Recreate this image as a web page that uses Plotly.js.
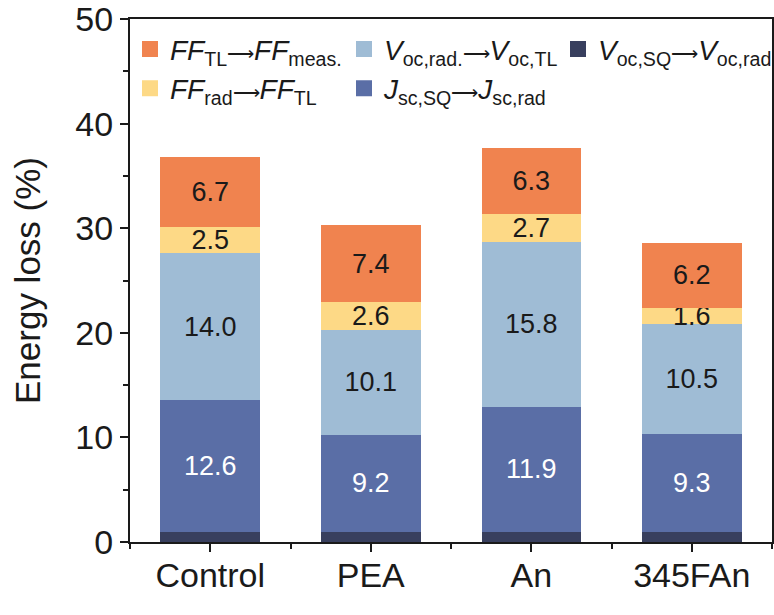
<!DOCTYPE html>
<html>
<head>
<meta charset="utf-8">
<script src="https://cdn.plot.ly/plotly-3.0.1.min.js"></script>
<style>html,body{margin:0;padding:0;background:#fff;}#chart{width:774px;height:615px;}</style>
</head>
<body>
<div id="chart"></div>
<script>
const categories = ['Control', 'PEA', 'An', '345FAn'];
const vocSQ  = [1.0, 1.0, 1.0, 1.0];
const jsc    = [12.6, 9.2, 11.9, 9.3];
const vocRad = [14.0, 10.1, 15.8, 10.5];
const ffRad  = [2.5, 2.6, 2.7, 1.6];
const ffTL   = [6.7, 7.4, 6.3, 6.2];

const AR = '<span style="font-size:19px">⟶</span>';
const seriesNames = {
  ffTL: '<i>FF</i><sub>TL</sub>' + AR + '<i>FF</i><sub>meas.</sub>',
  vocRad: '<i>V</i><sub>oc,rad.</sub>' + AR + '<i>V</i><sub>oc,TL</sub>',
  vocSQ: '<i>V</i><sub>oc,SQ</sub>' + AR + '<i>V</i><sub>oc,rad</sub>',
  ffRad: '<i>FF</i><sub>rad</sub>' + AR + '<i>FF</i><sub>TL</sub>',
  jsc: '<i>J</i><sub>sc,SQ</sub>' + AR + '<i>J</i><sub>sc,rad</sub>'
};
const colors = {
  ffTL: '#F0834F', vocRad: '#9FBCD5', vocSQ: '#383F5E', ffRad: '#FDD986', jsc: '#5A6EA6'
};

const xs = categories.map((_, i) => i);
const font = 'Liberation Sans, Arial, sans-serif';

function bar(key, vals, textColor, showText) {
  return {
    type: 'bar', x: xs, y: vals, name: seriesNames[key], showlegend: false,
    marker: {color: colors[key], line: {width: 0}},
    width: 0.62,
    text: showText ? vals.map(v => v.toFixed(1)) : undefined,
    textposition: showText ? 'inside' : 'none',
    insidetextanchor: 'middle',
    textfont: {family: font, size: 27, color: textColor},
    hoverinfo: 'y'
  };
}

const traces = [
  bar('vocSQ', vocSQ, '#fff', false),
  bar('jsc', jsc, '#ffffff', true),
  bar('vocRad', vocRad, '#1a1a1a', true),
  bar('ffRad', ffRad, '#1a1a1a', true),
  bar('ffTL', ffTL, '#1a1a1a', true)
];

// legend entries (row-major order as in the reference)
['ffTL', 'vocRad', 'vocSQ', 'ffRad', 'jsc'].forEach((key, i) => {
  traces.push({
    type: 'scatter', mode: 'markers', x: [null], y: [null],
    name: seriesNames[key], legendrank: i + 1,
    marker: {symbol: 'square', size: 16, color: colors[key]},
    hoverinfo: 'skip'
  });
});

const minorPos = [-0.5].concat(categories.map((_, i) => i + 0.5));

const layout = {
  width: 774, height: 615,
  margin: {l: 130, r: 2, t: 19, b: 73},
  paper_bgcolor: '#fff', plot_bgcolor: '#fff',
  barmode: 'stack',
  font: {family: font, color: '#1a1a1a'},
  uniformtext: {mode: 'show', minsize: 27},
  showlegend: true,
  legend: {
    orientation: 'h', x: 0.0, xanchor: 'left', y: 0.99, yanchor: 'top',
    bgcolor: 'rgba(0,0,0,0)', borderwidth: 0,
    font: {family: font, size: 28, color: '#1a1a1a'},
    entrywidth: 169, entrywidthmode: 'pixels',
    traceorder: 'normal', itemsizing: 'trace', itemwidth: 30
  },
  xaxis: {
    type: 'linear', range: [-0.5, 3.5],
    tickmode: 'array', tickvals: xs, ticktext: categories,
    ticks: 'outside', ticklen: 8, tickwidth: 2, tickcolor: '#1a1a1a',
    minor: {tickmode: 'array', tickvals: minorPos, ticks: 'outside', ticklen: 5, tickwidth: 2, tickcolor: '#1a1a1a', showgrid: false},
    showline: true, linewidth: 2, linecolor: '#1a1a1a', mirror: true,
    showgrid: false, zeroline: false, ticklabeloverflow: 'allow',
    ticklabelstandoff: -6,
    tickfont: {family: font, size: 34, color: '#1a1a1a'}
  },
  yaxis: {
    range: [0, 50], tickmode: 'linear', tick0: 0, dtick: 10,
    ticks: 'outside', ticklen: 8, tickwidth: 2, tickcolor: '#1a1a1a',
    minor: {dtick: 5, ticks: 'outside', ticklen: 5, tickwidth: 2, tickcolor: '#1a1a1a', showgrid: false},
    showline: true, linewidth: 2, linecolor: '#1a1a1a', mirror: true,
    showgrid: false, zeroline: false, ticklabeloverflow: 'allow',
    tickfont: {family: font, size: 34, color: '#1a1a1a'},
    title: {text: 'Energy loss (%)', font: {family: font, size: 35, color: '#1a1a1a'}, standoff: 24}
  }
};

Plotly.newPlot('chart', traces, layout, {displayModeBar: false, staticPlot: true});
</script>
</body>
</html>
